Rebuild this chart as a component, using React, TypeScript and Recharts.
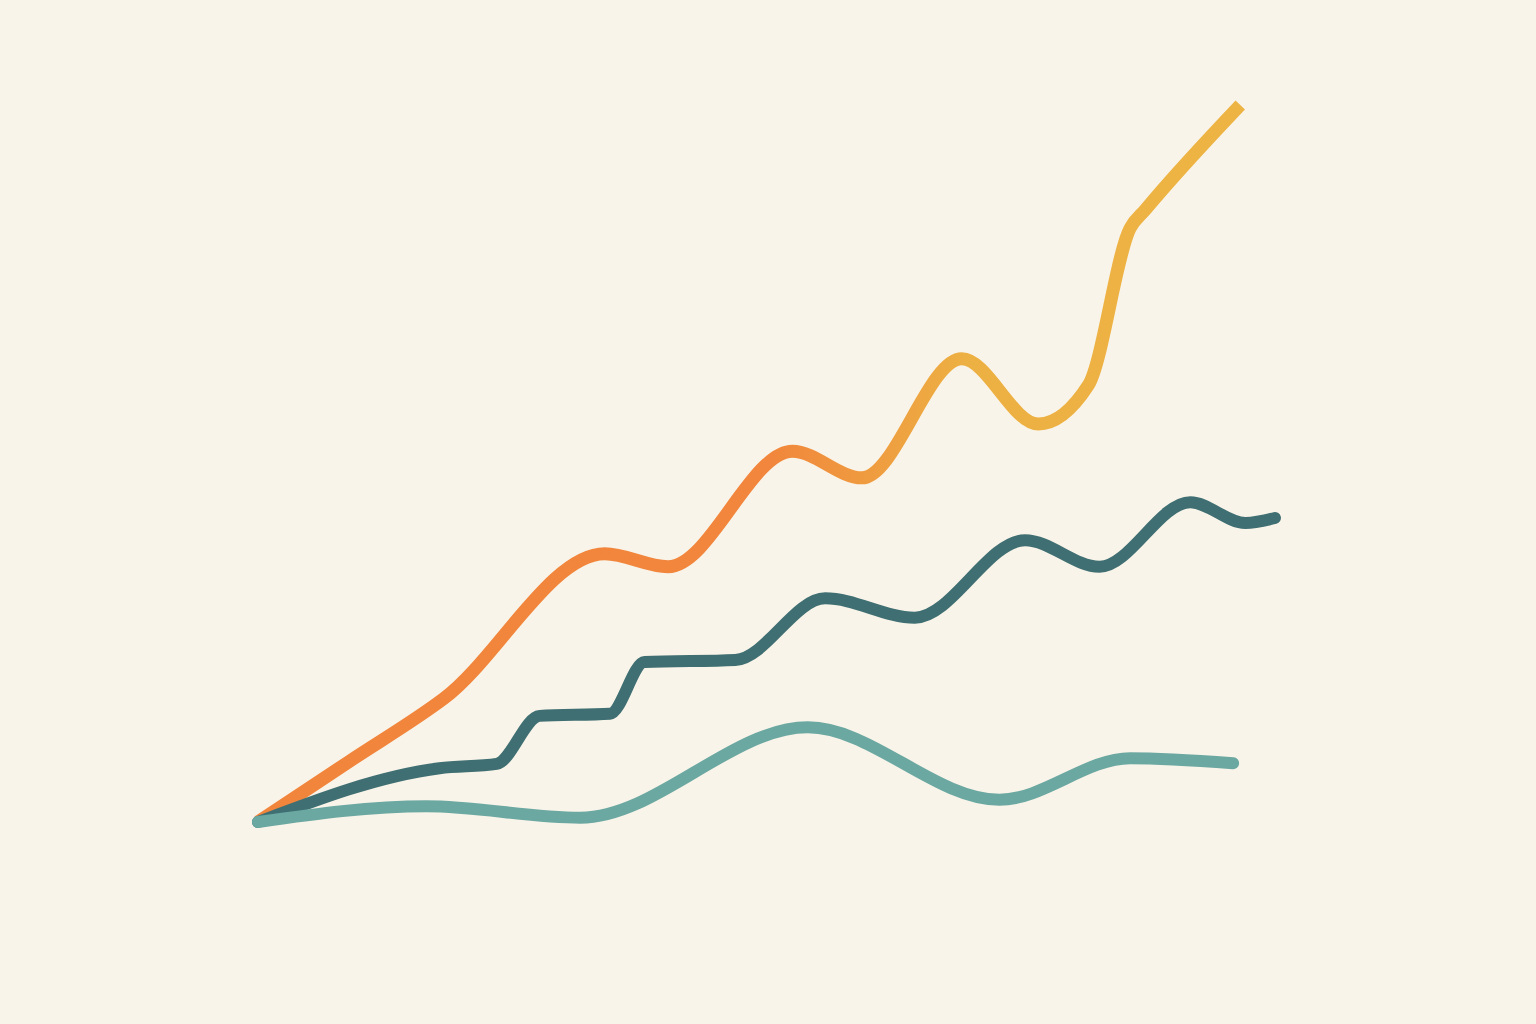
import { LineChart, Line, XAxis, YAxis } from 'recharts'

// x: position along the period (0-100), y: value (0-100)
const growthX = [0, 9.0, 18.2, 34.0, 40.2, 52.4, 59.2, 69.0, 76.5, 81.4, 85.5, 87.0, 96.3]
const growthY = [0, 8.5, 17.2, 37.4, 35.6, 51.7, 48.0, 64.6, 55.5, 60.9, 82.8, 85.4, 100]

const stepX = [0, 17.8, 23.4, 27.6, 34.5, 37.9, 46.8, 55.6, 64.4, 75.2, 82.5, 91.4, 96.8, 99.7]
const stepY = [0, 7.5, 8.1, 14.8, 15.1, 22.3, 22.6, 31.2, 28.5, 39.3, 35.6, 44.6, 41.7, 42.4]

const baseX = [0, 16.5, 31.6, 53.9, 72.7, 85.5, 95.6]
const baseY = [0, 2.2, 0.6, 13.2, 3.1, 8.9, 8.2]

const zip = (xs: number[], ys: number[]) => xs.map((x, i) => ({ x, y: ys[i] }))

const growth = zip(growthX, growthY)
const step = zip(stepX, stepY)
const base = zip(baseX, baseY)

export default function App() {
  return (
    <div style={{ position: 'fixed', top: 0, left: 0, width: 1536, height: 1024, background: '#F9F4E9' }}>
      <LineChart width={1536} height={1024} margin={{ top: 105, right: 258, bottom: 202, left: 258 }}>
        <defs>
          <linearGradient id="warm" x1="0" y1="0" x2="1" y2="0">
            <stop offset="0%" stopColor="#F1853C" />
            <stop offset="52%" stopColor="#F1863C" />
            <stop offset="72%" stopColor="#EDB043" />
            <stop offset="100%" stopColor="#EDB443" />
          </linearGradient>
        </defs>
        <XAxis type="number" dataKey="x" domain={[0, 100]} hide />
        <YAxis type="number" dataKey="y" domain={[0, 100]} hide />
        <Line
          data={growth}
          dataKey="y"
          type="monotone"
          stroke="url(#warm)"
          strokeWidth={13}
          strokeLinejoin="round"
          dot={false}
          isAnimationActive={false}
        />
        <Line
          data={step}
          dataKey="y"
          type="monotone"
          stroke="#3F6F72"
          strokeWidth={12}
          strokeLinecap="round"
          strokeLinejoin="round"
          dot={false}
          isAnimationActive={false}
        />
        <Line
          data={base}
          dataKey="y"
          type="monotone"
          stroke="#6BA8A2"
          strokeWidth={12}
          strokeLinecap="round"
          strokeLinejoin="round"
          dot={false}
          isAnimationActive={false}
        />
      </LineChart>
    </div>
  )
}
